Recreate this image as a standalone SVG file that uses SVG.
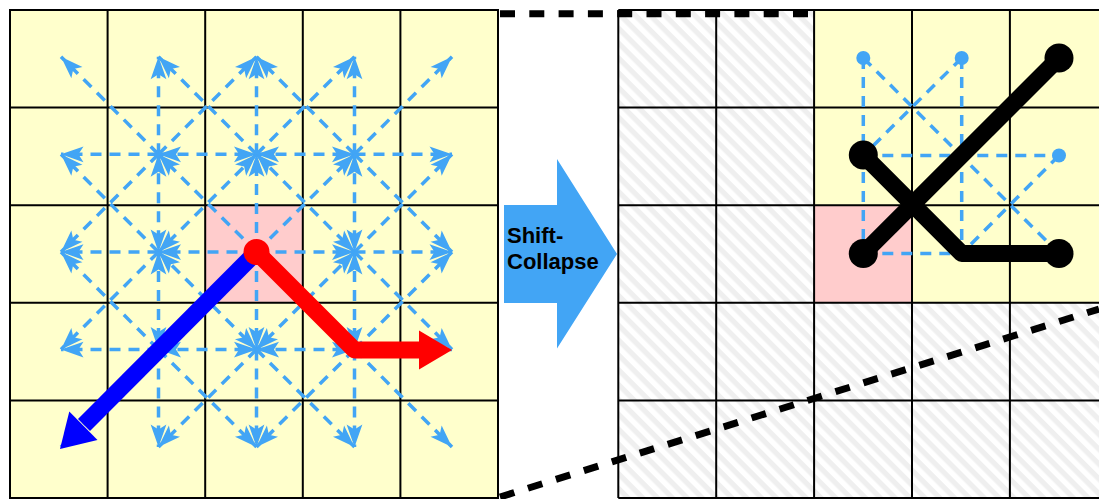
<svg xmlns="http://www.w3.org/2000/svg" width="1099" height="499" viewBox="0 0 1099 499">
  <style>
    .y{fill:#ffffcc}
    .p{fill:#ffcccc}
    .h{fill:url(#hatch)}
    .grid{fill:none;stroke:#000;stroke-width:2}
    .d{stroke:#42a5f5;stroke-width:3.5;stroke-dasharray:11 8;fill:none}
    .e{marker-end:url(#ah)}
    .b{marker-end:url(#ah);marker-start:url(#ah)}
    .zoom{stroke:#000;stroke-width:7;stroke-dasharray:15 14.3;fill:none}
    .blk{stroke:#000;stroke-width:17;fill:none;stroke-linejoin:round}
    .lbl{font-family:"Liberation Sans",Arial,Helvetica,sans-serif;font-weight:bold;font-size:22px;fill:#000}
  </style>
  <defs>
    <pattern id="hatch" width="10.5" height="10.5" patternUnits="userSpaceOnUse" patternTransform="rotate(45)">
      <rect width="10.5" height="10.5" fill="#ffffff"/>
      <rect width="10.5" height="5.25" fill="#efefef"/>
    </pattern>
    <marker id="ah" markerUnits="userSpaceOnUse" markerWidth="26" markerHeight="18" viewBox="-21 -8 22 16" refX="0" refY="0" orient="auto-start-reverse">
      <path d="M0,0 L-20,-7 L-15.5,0 L-20,7 Z" fill="#42a5f5"/>
    </marker>
  </defs>

  <rect width="1099" height="499" fill="#ffffff"/>

  <g id="left-grid">
    <rect class="y" x="10" y="10" width="488" height="488"/>
    <rect class="p" x="205.2" y="205.2" width="97.6" height="97.6"/>
    <path class="grid" d="M10,10H498V498H10Z M107.6,10V498 M205.2,10V498 M302.8,10V498 M400.4,10V498 M10,107.6H498 M10,205.2H498 M10,302.8H498 M10,400.4H498"/>
  </g>

  <g id="right-grid">
    <rect class="h" x="618.3" y="10" width="490" height="488"/>
    <rect class="y" x="814.1" y="10" width="294" height="195.2"/>
    <rect class="y" x="912" y="205.2" width="196" height="97.6"/>
    <rect class="p" x="814.1" y="205.2" width="97.9" height="97.6"/>
    <path class="grid" d="M618.3,10H1108 M618.3,498H1108 M618.3,10V498 M716.2,10V498 M814.1,10V498 M912,10V498 M1009.9,10V498 M618.3,107.6H1108 M618.3,205.2H1108 M618.3,302.8H1108 M618.3,400.4H1108"/>
  </g>

  <g id="shift-collapse">
    <polygon points="504,205 557,205 557,159 617,254 557,348.5 557,303 504,303" fill="#42a5f5"/>
    <text class="lbl" x="507" y="243.3">Shift-</text>
    <text class="lbl" x="507" y="269.3">Collapse</text>
  </g>

  <g id="connectors">
    <g id="zoom-lines">
      <line class="zoom" x1="500" y1="13.7" x2="808" y2="13.7"/>
      <line class="zoom" x1="500" y1="497" x2="1099" y2="309"/>
    </g>
    <g id="moves-left">
      <line class="d e" x1="256.5" y1="252" x2="158.5" y2="154.3"/>
      <line class="d e" x1="256.5" y1="252" x2="256.5" y2="154.3"/>
      <line class="d e" x1="256.5" y1="252" x2="354.5" y2="154.3"/>
      <line class="d e" x1="256.5" y1="252" x2="158.5" y2="252"/>
      <line class="d e" x1="256.5" y1="252" x2="354.5" y2="252"/>
      <line class="d e" x1="256.5" y1="252" x2="158.5" y2="349.5"/>
      <line class="d e" x1="256.5" y1="252" x2="256.5" y2="349.5"/>
      <line class="d e" x1="256.5" y1="252" x2="354.5" y2="349.5"/>
      <line class="d b" x1="158.5" y1="154.3" x2="256.5" y2="154.3"/>
      <line class="d b" x1="158.5" y1="154.3" x2="158.5" y2="252"/>
      <line class="d b" x1="256.5" y1="154.3" x2="354.5" y2="154.3"/>
      <line class="d b" x1="256.5" y1="154.3" x2="158.5" y2="252"/>
      <line class="d b" x1="256.5" y1="154.3" x2="354.5" y2="252"/>
      <line class="d b" x1="354.5" y1="154.3" x2="354.5" y2="252"/>
      <line class="d b" x1="158.5" y1="252" x2="158.5" y2="349.5"/>
      <line class="d b" x1="158.5" y1="252" x2="256.5" y2="349.5"/>
      <line class="d b" x1="354.5" y1="252" x2="354.5" y2="349.5"/>
      <line class="d b" x1="354.5" y1="252" x2="256.5" y2="349.5"/>
      <line class="d b" x1="158.5" y1="349.5" x2="256.5" y2="349.5"/>
      <line class="d b" x1="256.5" y1="349.5" x2="354.5" y2="349.5"/>
      <line class="d e" x1="158.5" y1="154.3" x2="61" y2="56.7"/>
      <line class="d e" x1="158.5" y1="154.3" x2="158.5" y2="56.7"/>
      <line class="d e" x1="158.5" y1="154.3" x2="256.5" y2="56.7"/>
      <line class="d e" x1="158.5" y1="154.3" x2="61" y2="154.3"/>
      <line class="d e" x1="158.5" y1="154.3" x2="61" y2="252"/>
      <line class="d e" x1="256.5" y1="154.3" x2="158.5" y2="56.7"/>
      <line class="d e" x1="256.5" y1="154.3" x2="256.5" y2="56.7"/>
      <line class="d e" x1="256.5" y1="154.3" x2="354.5" y2="56.7"/>
      <line class="d e" x1="354.5" y1="154.3" x2="256.5" y2="56.7"/>
      <line class="d e" x1="354.5" y1="154.3" x2="354.5" y2="56.7"/>
      <line class="d e" x1="354.5" y1="154.3" x2="452" y2="56.7"/>
      <line class="d e" x1="354.5" y1="154.3" x2="452" y2="154.3"/>
      <line class="d e" x1="354.5" y1="154.3" x2="452" y2="252"/>
      <line class="d e" x1="158.5" y1="252" x2="61" y2="154.3"/>
      <line class="d e" x1="158.5" y1="252" x2="61" y2="252"/>
      <line class="d e" x1="158.5" y1="252" x2="61" y2="349.5"/>
      <line class="d e" x1="354.5" y1="252" x2="452" y2="154.3"/>
      <line class="d e" x1="354.5" y1="252" x2="452" y2="252"/>
      <line class="d e" x1="354.5" y1="252" x2="452" y2="349.5"/>
      <line class="d e" x1="158.5" y1="349.5" x2="61" y2="252"/>
      <line class="d e" x1="158.5" y1="349.5" x2="61" y2="349.5"/>
      <line class="d e" x1="158.5" y1="349.5" x2="61" y2="447"/>
      <line class="d e" x1="158.5" y1="349.5" x2="158.5" y2="447"/>
      <line class="d e" x1="158.5" y1="349.5" x2="256.5" y2="447"/>
      <line class="d e" x1="256.5" y1="349.5" x2="158.5" y2="447"/>
      <line class="d e" x1="256.5" y1="349.5" x2="256.5" y2="447"/>
      <line class="d e" x1="256.5" y1="349.5" x2="354.5" y2="447"/>
      <line class="d e" x1="354.5" y1="349.5" x2="256.5" y2="447"/>
      <line class="d e" x1="354.5" y1="349.5" x2="354.5" y2="447"/>
      <line class="d e" x1="354.5" y1="349.5" x2="452" y2="447"/>
      <line class="d e" x1="354.5" y1="349.5" x2="452" y2="349.5"/>
      <line class="d e" x1="354.5" y1="349.5" x2="452" y2="252"/>
    </g>
    <g id="blue-path">
      <path d="M256.5,252 L84,425" stroke="#0000ff" stroke-width="17" fill="none"/>
      <polygon points="60,449 69.3,411.5 97.5,439.9" fill="#0000ff"/>
    </g>
    <g id="red-path">
      <path d="M256.5,252 L354.5,350 L420,350" stroke="#ff0000" stroke-width="17" fill="none" stroke-linejoin="round"/>
      <polygon points="419,330.5 452,350 419,369.5" fill="#ff0000"/>
    </g>
    <g id="moves-right">
      <line class="d" x1="863.3" y1="58" x2="863.3" y2="253.5"/>
      <line class="d" x1="863.3" y1="58" x2="1059" y2="253.5"/>
      <line class="d" x1="961.7" y1="58" x2="961.7" y2="253.5"/>
      <line class="d" x1="961.7" y1="58" x2="863.3" y2="155.5"/>
      <line class="d" x1="863.3" y1="155.5" x2="1059" y2="155.5"/>
      <line class="d" x1="1059" y1="155.5" x2="961.7" y2="253.5"/>
      <line class="d" x1="863.3" y1="253.5" x2="1059" y2="253.5"/>
      <g fill="#42a5f5">
        <circle cx="863.3" cy="58" r="7"/>
        <circle cx="961.7" cy="58" r="7"/>
        <circle cx="1059" cy="155.5" r="7"/>
      </g>
    </g>
    <g id="collapsed-paths">
      <path class="blk" d="M863.3,253.5 L1059,58"/>
      <path class="blk" d="M863.3,155 L961.7,253.5 L1059,253.5"/>
      <g fill="#000">
        <circle cx="863.3" cy="155" r="14.5"/>
        <circle cx="863.3" cy="253.5" r="14.5"/>
        <circle cx="1059" cy="58" r="14.5"/>
        <circle cx="1059" cy="253.5" r="14.5"/>
      </g>
    </g>
  </g>

  <g id="start-node">
    <circle cx="256.5" cy="252" r="13" fill="#ff0000"/>
  </g>
</svg>
